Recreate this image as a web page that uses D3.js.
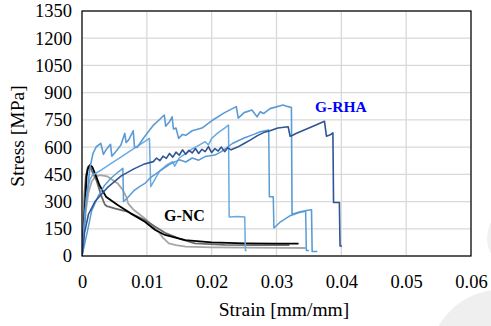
<!DOCTYPE html>
<html><head><meta charset="utf-8">
<script src="https://cdn.jsdelivr.net/npm/d3@7"></script>
<style>
html,body{margin:0;padding:0;background:#fff;}
svg{display:block;}
text{font-family:"Liberation Serif","Times New Roman",serif;}
</style></head>
<body>
<script>
// ---------- DATA (strain [mm/mm], stress [MPa]) ----------
const xTicks = [0, 0.01, 0.02, 0.03, 0.04, 0.05, 0.06];
const yTicks = [0, 150, 300, 450, 600, 750, 900, 1050, 1200, 1350];

// G-NC specimens
const ncLight = [[0,0],[0.0003,120],[0.0006,250],[0.001,350],[0.0015,410],[0.002,435],[0.0027,446],[0.0035,442],[0.004,437],[0.0055,400],[0.0063,364],[0.0069,320],[0.0071,290],[0.008,253],[0.01,198],[0.0116,143],[0.0125,100],[0.0134,70],[0.0145,60],[0.016,52],[0.02,48],[0.025,46],[0.03,45],[0.0345,44]];
const ncDark = [[0,0],[0.0002,150],[0.0004,350],[0.0006,440],[0.0009,490],[0.0012,497],[0.0015,470],[0.0022,420],[0.003,330],[0.0035,285],[0.0038,275],[0.0045,268],[0.005,262],[0.007,244],[0.0097,198],[0.0113,161],[0.0128,128],[0.0149,97],[0.0174,70],[0.022,61],[0.027,60],[0.032,60]];
const ncBlack = [[0,0],[0.0002,120],[0.0004,217],[0.0007,437],[0.0009,480],[0.0012,501],[0.0016,490],[0.002,455],[0.0027,390],[0.0037,327],[0.0055,281],[0.0075,235],[0.0097,189],[0.0113,143],[0.0128,116],[0.0159,88],[0.02,75],[0.025,70],[0.03,68],[0.0334,68]];

// G-RHA specimens
const rhaB = [[0,0],[0.0003,150],[0.0007,330],[0.0012,420],[0.0016,445],[0.003,475],[0.0045,510],[0.006,545],[0.0075,580],[0.009,615],[0.0104,648],[0.0106,382],[0.0112,420],[0.012,470],[0.013,500],[0.014,520],[0.0143,495],[0.015,540],[0.016,565],[0.017,590],[0.018,610],[0.019,630],[0.0195,612],[0.02,648],[0.021,680],[0.022,705],[0.0226,722],[0.0227,215],[0.024,218],[0.0251,215],[0.0252,30],[0.0254,30]];
const rhaD = [[0,0],[0.0008,130],[0.0015,250],[0.0025,330],[0.0035,390],[0.0045,430],[0.0055,460],[0.0063,483],[0.0064,300],[0.007,320],[0.008,360],[0.009,385],[0.0097,400],[0.0105,430],[0.0115,455],[0.0125,480],[0.0135,505],[0.015,530],[0.016,518],[0.017,540],[0.018,528],[0.019,548],[0.0205,556],[0.0215,575],[0.0232,620],[0.025,650],[0.0265,670],[0.0275,685],[0.0288,694],[0.0289,327],[0.0295,327],[0.0296,154],[0.0305,185],[0.032,220],[0.0335,240],[0.0345,246],[0.0346,30],[0.035,30]];
const rhaA = [[0,0],[0.0005,250],[0.0012,480],[0.0017,566],[0.0022,602],[0.0029,621],[0.0033,560],[0.0038,590],[0.0044,615],[0.0046,550],[0.0052,575],[0.006,611],[0.0066,676],[0.0068,625],[0.0072,640],[0.0079,690],[0.0081,600],[0.0085,598],[0.0095,650],[0.011,720],[0.0127,777],[0.0129,715],[0.0135,740],[0.0139,767],[0.0141,700],[0.0145,705],[0.0149,648],[0.0155,670],[0.016,665],[0.017,690],[0.0185,705],[0.02,745],[0.022,790],[0.0238,823],[0.0241,760],[0.025,790],[0.0262,804],[0.027,767],[0.0275,795],[0.028,785],[0.029,812],[0.031,832],[0.0318,823],[0.0323,818],[0.0324,230],[0.0335,242],[0.0348,252],[0.0354,255],[0.0355,25],[0.0363,25]];
const rhaC = [[0,0],[0.0004,130],[0.001,230],[0.002,300],[0.004,380],[0.006,440],[0.008,480],[0.0095,505],[0.011,520],[0.0115,540],[0.012,525],[0.0125,550],[0.013,538],[0.0135,565],[0.014,545],[0.0145,572],[0.015,555],[0.0155,585],[0.016,560],[0.0165,582],[0.017,568],[0.0175,592],[0.018,565],[0.0185,588],[0.019,575],[0.0195,602],[0.02,570],[0.0205,592],[0.021,578],[0.0215,600],[0.022,575],[0.0225,596],[0.023,585],[0.024,600],[0.025,620],[0.026,640],[0.027,662],[0.028,680],[0.029,690],[0.0302,705],[0.0318,712],[0.0321,660],[0.0325,665],[0.033,675],[0.034,690],[0.035,705],[0.036,720],[0.0374,742],[0.0377,660],[0.0383,668],[0.0387,678],[0.0388,295],[0.0397,295],[0.0398,55],[0.0401,55]];

const seriesNames = ["ncLight","ncDark","ncBlack","rhaB","rhaD","rhaA","rhaC"];
const seriesData = [ncLight, ncDark, ncBlack, rhaB, rhaD, rhaA, rhaC];
const seriesColors = ["#a6a6a6","#6b6b6b","#000000","#6aaae2","#5b9bd5","#5b9bd5","#2f5597"];
const seriesWidths = [1.8,1.8,1.8,1.5,1.5,1.6,1.6];

// ---------- CHART ----------
const W = 491, H = 326;
const svg = d3.select("body").append("svg").attr("width", W).attr("height", H);

// faint background shapes
svg.append("circle").attr("cx",500).attr("cy",360).attr("r",70).attr("fill","#efefef");
svg.append("circle").attr("cx",521).attr("cy",238).attr("r",34).attr("fill","#f1f1f1");

const x = d3.scaleLinear().domain([0, 0.06]).range([82, 471]);
const y = d3.scaleLinear().domain([0, 1350]).range([256, 11]);

// gridlines
const grid = svg.append("g");
grid.selectAll("line.h").data(yTicks).join("line")
  .attr("x1", x(0)).attr("x2", x(0.06))
  .attr("y1", d => y(d)).attr("y2", d => y(d))
  .attr("stroke", "#d9d9d9").attr("stroke-width", 1.3);
grid.selectAll("line.v").data(xTicks).join("line")
  .attr("y1", y(0)).attr("y2", y(1350))
  .attr("x1", d => x(d)).attr("x2", d => x(d))
  .attr("stroke", "#d9d9d9").attr("stroke-width", 1.3);

// clip
svg.append("clipPath").attr("id","clip").append("rect")
  .attr("x", x(0)).attr("y", y(1350)).attr("width", x(0.06)-x(0)).attr("height", y(0)-y(1350));

const line = d3.line().x(d => x(d[0])).y(d => y(d[1]));
const g = svg.append("g").attr("clip-path","url(#clip)");
seriesData.forEach((s, i) => {
  g.append("path").datum(s).attr("d", line)
    .attr("fill","none").attr("stroke", seriesColors[i])
    .attr("stroke-width", seriesWidths[i]).attr("stroke-linejoin","round");
});

// frame
svg.append("rect").attr("x", x(0)).attr("y", y(1350))
  .attr("width", x(0.06)-x(0)).attr("height", y(0)-y(1350))
  .attr("fill","none").attr("stroke","#000").attr("stroke-width",1.2);

// axes
const fmtX = d => d === 0 ? "0" : d3.format(".2f")(d);
const xa = svg.append("g").attr("transform", `translate(0,${y(0)})`)
  .call(d3.axisBottom(x).tickValues(xTicks).tickFormat(fmtX).tickSize(0).tickPadding(19));
const ya = svg.append("g").attr("transform", `translate(${x(0)},0)`)
  .call(d3.axisLeft(y).tickValues(yTicks).tickFormat(d3.format("d")).tickSize(0).tickPadding(10));
[xa, ya].forEach(a => {
  a.select(".domain").remove();
  a.selectAll("text").attr("font-family",'"Liberation Serif", serif').attr("font-size","18.5px").attr("fill","#000");
});

// axis titles
svg.append("text").attr("x", 284).attr("y", 316).attr("text-anchor","middle")
  .attr("font-size","19.5px").attr("fill","#000").text("Strain [mm/mm]");
svg.append("text").attr("transform","translate(24,136) rotate(-90)").attr("text-anchor","middle")
  .attr("font-size","19.5px").attr("fill","#000").text("Stress [MPa]");

// labels
svg.append("text").attr("x", 164).attr("y", 221).attr("font-weight","bold")
  .attr("font-size","16px").attr("fill","#000").text("G-NC");
svg.append("text").attr("x", 315).attr("y", 111.5).attr("font-weight","bold")
  .attr("font-size","15.5px").attr("fill","#0000ff").text("G-RHA");
</script>
</body></html>
